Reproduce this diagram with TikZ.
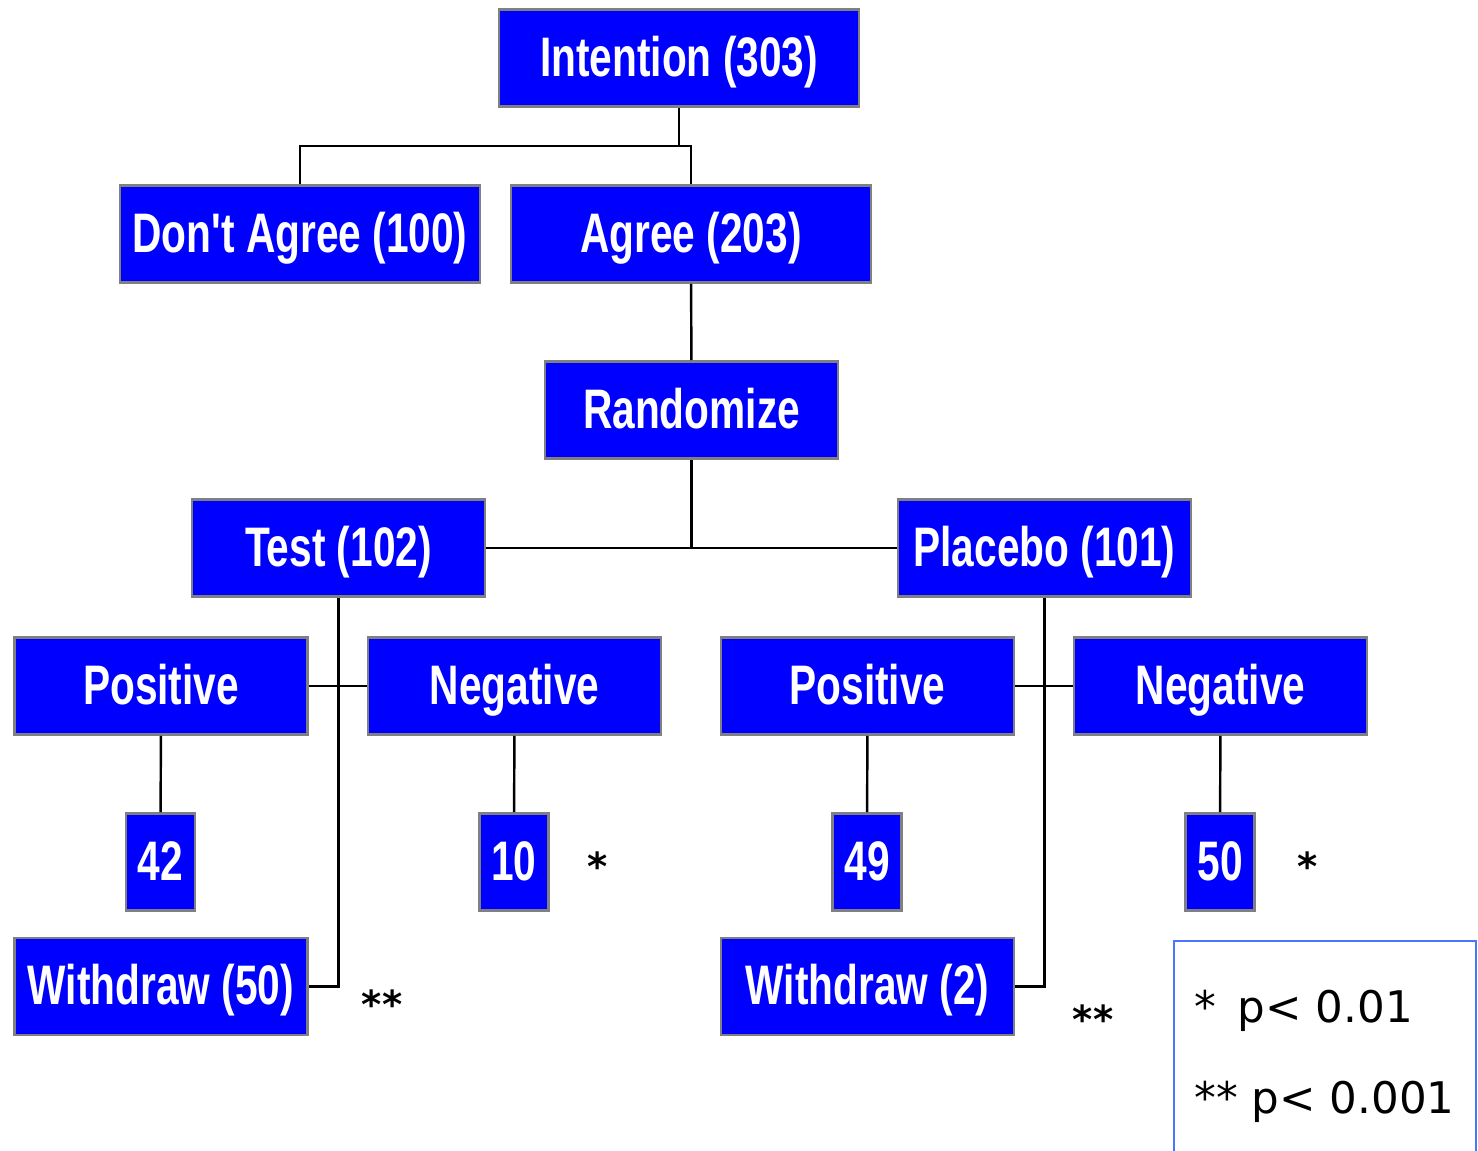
\documentclass[tikz,border=0pt]{standalone}
\usepackage{fontspec}
\setmainfont{Liberation Sans}
\newfontfamily\boxfont[FakeStretch=0.73]{Liberation Sans}
\newfontfamily\notefont{DejaVu Sans}
\usetikzlibrary{positioning,calc}

\begin{document}
\begin{tikzpicture}[
  x=0.02cm, y=-0.02cm,
  % --- box styles ---
  stage/.style={
    rectangle,
    draw=gray,
    line width=1.6pt,
    fill=blue,
    text=white,
    font=\boxfont\bfseries\fontsize{31.7}{36}\selectfont,
    inner sep=0pt,
    text height=21pt,
    text depth=0pt,
    minimum height=1.94cm
  },
  wide/.style={stage, minimum width=7.2cm},
  mid/.style={stage, minimum width=5.86cm},
  count/.style={stage, minimum width=1.38cm},
  link/.style={
    draw=black,
    line width=1.4pt
  },
  sigmark/.style={font=\notefont\bfseries\fontsize{22}{28}\selectfont, inner sep=0pt},
  note/.style={font=\notefont\fontsize{24.8}{28}\selectfont, inner sep=0pt, anchor=base west}
]

\useasboundingbox (0,0) rectangle (1478,1150);

% ---- top of the tree ----
\node[wide] (intent) at (679,58) {Intention (303)};
\node[wide] (dontagree) at (300,234) {Don't Agree (100)};
\node[wide] (agree) at (691,234) {Agree (203)};
\node[mid] (rand) at (691.5,410) {Randomize};

% ---- the two arms ----
\node[mid] (test) at (338.5,548) {Test (102)};
\node[mid] (placebo) at (1044.5,548) {Placebo (101)};

\node[mid] (posL) at (161,686) {Positive};
\node[mid] (negL) at (514.5,686) {Negative};
\node[mid] (posR) at (867.5,686) {Positive};
\node[mid] (negR) at (1220.5,686) {Negative};

\node[count] (n42) at (160.5,862) {42};
\node[count] (n10) at (514,862) {10};
\node[count] (n49) at (867,862) {49};
\node[count] (n50) at (1220,862) {50};

\node[mid] (wdL) at (161,986.5) {Withdraw (50)};
\node[mid] (wdR) at (867.5,986.5) {Withdraw (2)};

% ---- significance marks ----
\node[sigmark] (s10) at (598,866) {*};
\node[sigmark] (s50) at (1308,866) {*};
\node[sigmark] (swL) at (382,1004) {**};
\node[sigmark] (swR) at (1093,1019) {**};

% ---- legend ----
\draw[draw={rgb,255:red,70;green,120;blue,255}, line width=0.8pt] (1174,941) rectangle (1476,1170);
\node[note] (leg1) at (1194,1022) {*\hspace{0.5em}p< 0.01};
\node[note] (leg2) at (1194,1113) {** p< 0.001};

% ---- connectors ----
\coordinate (split) at (679,146);
\draw[link] (intent) -- (split);
\draw[link] (dontagree.north) |- (split) -| (agree.north);
\draw[link] (agree) -- (rand);

\draw[link] (test) -- (placebo);
\draw[link] (rand) -- (rand |- test);

\draw[link] (test.south) |- (wdL.east);
\draw[link] (posL) -- (negL);
\draw[link] (placebo.south) |- (wdR.east);
\draw[link] (posR) -- (negR);

\draw[link] (posL) -- (n42);
\draw[link] (negL) -- (n10);
\draw[link] (posR) -- (n49);
\draw[link] (negR) -- (n50);

\end{tikzpicture}
\end{document}
